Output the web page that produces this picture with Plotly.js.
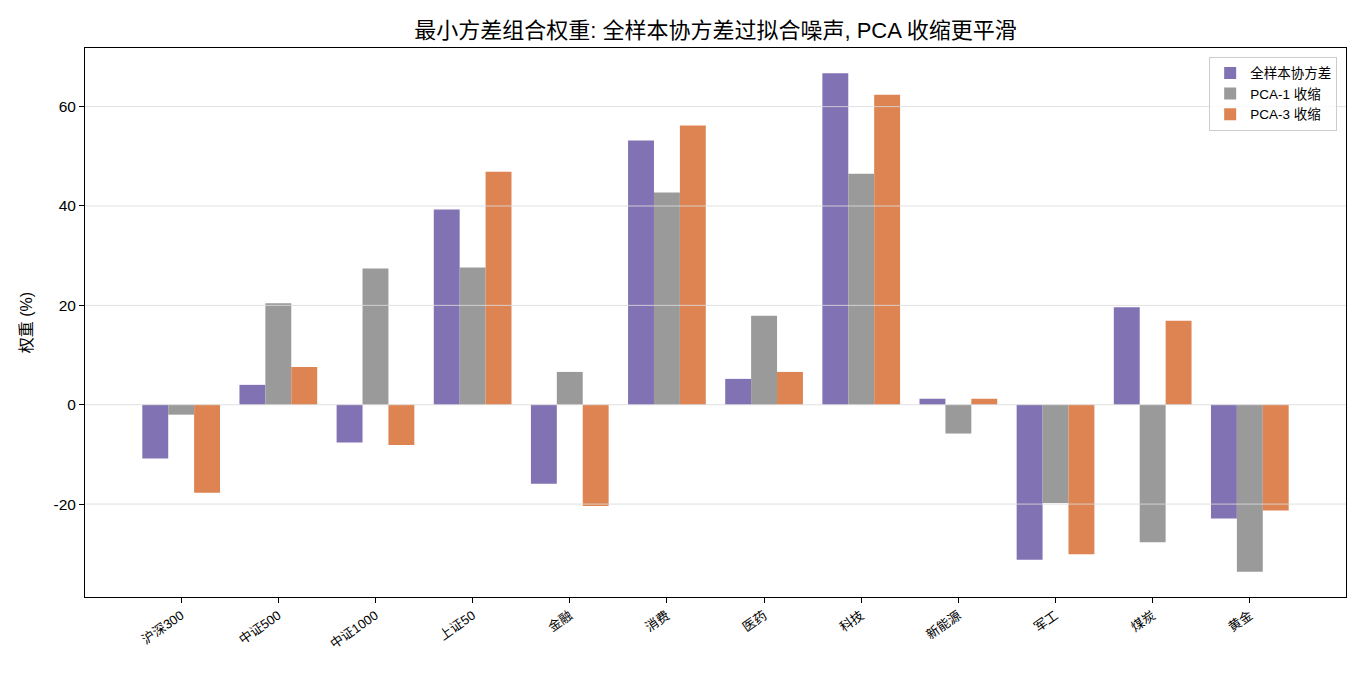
<!DOCTYPE html>
<html>
<head>
<meta charset="utf-8">
<script src="https://cdn.plot.ly/plotly-3.0.1.min.js"></script>
<style>html,body{margin:0;padding:0;background:#fff;}#chart{width:1365px;height:676px;}</style>
</head>
<body>
<div id="chart"></div>
<script>
const categories = ['沪深300','中证500','中证1000','上证50','金融','消费','医药','科技','新能源','军工','煤炭','黄金'];
const sampleCov = [-10.8, 4.0, -7.6, 39.3, -15.9, 53.2, 5.2, 66.7, 1.2, -31.2, 19.6, -22.9];
const pca1 = [-2.0, 20.4, 27.4, 27.6, 6.6, 42.7, 17.9, 46.5, -5.8, -19.8, -27.7, -33.6];
const pca3 = [-17.7, 7.6, -8.1, 46.9, -20.4, 56.2, 6.6, 62.4, 1.2, -30.1, 16.9, -21.3];
const seriesNames = ['全样本协方差', 'PCA-1 收缩', 'PCA-3 收缩'];
const yTickVals = [-20, 0, 20, 40, 60];
const yTickText = ['-20', '0', '20', '40', '60'];

const colors = ['#8172b3', '#9a9a9a', '#dd8452'];
const fontFamily = 'Liberation Sans, Arial, "Noto Sans CJK SC", sans-serif';
const data = [sampleCov, pca1, pca3].map((vals, i) => ({
  type: 'bar', x: categories, y: vals, name: seriesNames[i],
  marker: {color: colors[i], line: {width: 0}}
}));

const gridShapes = yTickVals.map(v => ({
  type: 'line', xref: 'paper', x0: 0, x1: 1, yref: 'y', y0: v, y1: v,
  line: {color: 'rgba(218,218,218,0.85)', width: 1}, layer: 'above'
}));

const layout = {
  width: 1365, height: 676,
  margin: {l: 85, r: 19, t: 48, b: 79},
  paper_bgcolor: '#fff', plot_bgcolor: '#fff',
  font: {family: fontFamily, color: '#000', size: 14},
  title: {text: '最小方差组合权重: 全样本协方差过拟合噪声, PCA 收缩更平滑',
    font: {size: 22, family: fontFamily, color: '#000'},
    x: 0.5, xanchor: 'center', xref: 'paper', y: 1 - 30/676, yanchor: 'middle', yref: 'container'},
  barmode: 'group', bargap: 0.2, bargroupgap: 0,
  xaxis: {type: 'category', range: [-0.99, 11.99], tickangle: -35,
    tickfont: {size: 13}, ticks: 'outside', ticklen: 5, tickwidth: 1, tickcolor: '#000',
    showline: true, linecolor: '#000', linewidth: 1, mirror: true, showgrid: false, zeroline: false},
  yaxis: {range: [-38.7, 71.8], tickvals: yTickVals, ticktext: yTickText,
    tickfont: {size: 15.5}, ticks: 'outside', ticklen: 5, tickwidth: 1, tickcolor: '#000',
    showline: true, linecolor: '#000', linewidth: 1, mirror: true,
    showgrid: false, zeroline: false,
    title: {text: '权重 (%)', font: {size: 16}, standoff: 16}},
  shapes: gridShapes,
  legend: {x: 0.993, y: 0.984, xanchor: 'right', yanchor: 'top',
    bgcolor: 'rgba(255,255,255,0.8)', bordercolor: '#cccccc', borderwidth: 1,
    font: {size: 13.5}, tracegroupgap: 4},
  showlegend: true
};

Plotly.newPlot('chart', data, layout, {displayModeBar: false, staticPlot: true});
</script>
</body>
</html>
